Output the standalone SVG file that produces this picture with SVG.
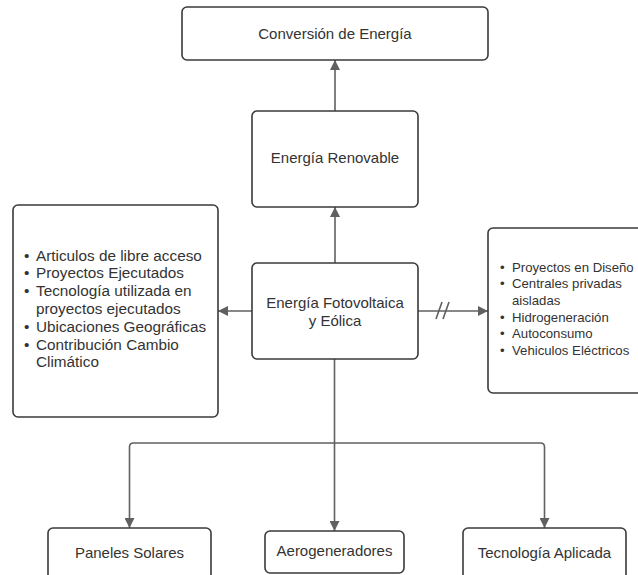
<svg xmlns="http://www.w3.org/2000/svg" width="638" height="575" viewBox="0 0 638 575">
<style>
.box{fill:#fff;stroke:#3a3a3a;stroke-width:1.6}
.t{font-family:"Liberation Sans",Arial,sans-serif;font-size:15px;fill:#333;text-anchor:middle;dominant-baseline:central}
.l{font-family:"Liberation Sans",Arial,sans-serif;font-size:15.3px;fill:#333}
.r{font-family:"Liberation Sans",Arial,sans-serif;font-size:13.2px;fill:#333}
.c{fill:none;stroke:#606060;stroke-width:1.6}
</style>
<defs>
<marker id="ah" viewBox="0 0 10 10" refX="10" refY="5" markerWidth="10" markerHeight="10" markerUnits="userSpaceOnUse" orient="auto">
<path d="M0,0 L10,5 L0,10 z" fill="#606060"/>
</marker>
</defs>
<g id="connectors">
<line class="c" x1="335" y1="111" x2="335" y2="60" marker-end="url(#ah)"/>
<line class="c" x1="335" y1="263" x2="335" y2="207" marker-end="url(#ah)"/>
<line class="c" x1="252" y1="311" x2="218" y2="311" marker-end="url(#ah)"/>
<line class="c" x1="418" y1="311" x2="488" y2="311" marker-end="url(#ah)"/>
<line class="c" x1="436" y1="319" x2="442" y2="302"/>
<line class="c" x1="443" y1="319" x2="449" y2="302"/>
<line class="c" x1="334.5" y1="359" x2="334.5" y2="531" marker-end="url(#ah)"/>
<path class="c" d="M334.5,443 H133.5 Q129.5,443 129.5,447 V528" marker-end="url(#ah)"/>
<path class="c" d="M334.5,443 H540.5 Q544.5,443 544.5,447 V528" marker-end="url(#ah)"/>
</g>
<g id="n-conversion">
<rect class="box" x="182" y="7" width="306" height="53" rx="5"/>
<text class="t" x="335" y="33">Conversión de Energía</text>
</g>
<g id="n-renovable">
<rect class="box" x="252" y="111" width="166" height="96" rx="5"/>
<text class="t" x="335" y="157">Energía Renovable</text>
</g>
<g id="n-fotovoltaica">
<rect class="box" x="252" y="263" width="166" height="96" rx="5"/>
<text class="t" x="335" y="302">Energía Fotovoltaica</text>
<text class="t" x="335" y="320">y Eólica</text>
</g>
<g id="n-izquierda">
<rect class="box" x="13" y="205" width="205" height="212" rx="5"/>
<text class="l" y="260.5">
<tspan x="24">•</tspan><tspan x="36">Articulos de libre acceso</tspan>
<tspan x="24" dy="17.8">•</tspan><tspan x="36">Proyectos Ejecutados</tspan>
<tspan x="24" dy="17.8">•</tspan><tspan x="36">Tecnología utilizada en</tspan>
<tspan x="36" dy="17.8">proyectos ejecutados</tspan>
<tspan x="24" dy="17.8">•</tspan><tspan x="36">Ubicaciones Geográficas</tspan>
<tspan x="24" dy="17.8">•</tspan><tspan x="36">Contribución Cambio</tspan>
<tspan x="36" dy="17.8">Climático</tspan>
</text>
</g>
<g id="n-derecha">
<rect class="box" x="488" y="228" width="160" height="165" rx="5"/>
<text class="r" y="271.5">
<tspan x="500">•</tspan><tspan x="512">Proyectos en Diseño</tspan>
<tspan x="500" dy="16.7">•</tspan><tspan x="512">Centrales privadas</tspan>
<tspan x="512" dy="16.7">aisladas</tspan>
<tspan x="500" dy="16.7">•</tspan><tspan x="512">Hidrogeneración</tspan>
<tspan x="500" dy="16.7">•</tspan><tspan x="512">Autoconsumo</tspan>
<tspan x="500" dy="16.7">•</tspan><tspan x="512">Vehiculos Eléctricos</tspan>
</text>
</g>
<g id="n-paneles">
<rect class="box" x="48" y="528" width="163" height="55" rx="5"/>
<text class="t" x="129.5" y="552">Paneles Solares</text>
</g>
<g id="n-aerogeneradores">
<rect class="box" x="265" y="531" width="139" height="42" rx="5"/>
<text class="t" x="334.5" y="550">Aerogeneradores</text>
</g>
<g id="n-tecnologia">
<rect class="box" x="463" y="528" width="163" height="55" rx="5"/>
<text class="t" x="544.5" y="552">Tecnología Aplicada</text>
</g>
</svg>
